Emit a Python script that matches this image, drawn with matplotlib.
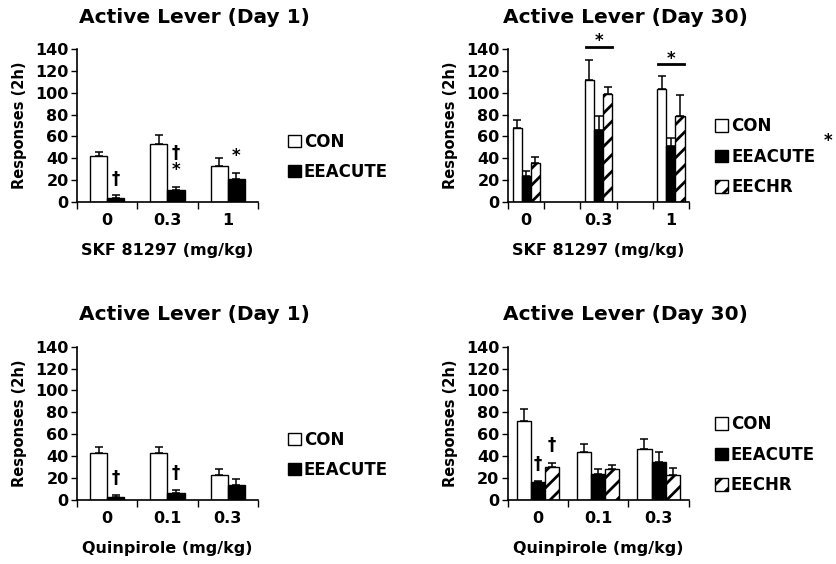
import numpy as np
import matplotlib.pyplot as plt

plt.rcParams["font.family"] = "DejaVu Sans"
plt.rcParams["font.weight"] = "bold"
plt.rcParams["axes.labelweight"] = "bold"
plt.rcParams["hatch.linewidth"] = 2.0

# SKF 81297 - Day 1
skf_d1_doses = ["0", "0.3", "1"]
skf_d1_con = [42, 53, 33]
skf_d1_con_err = [4, 8, 7]
skf_d1_acute = [4, 11, 21]
skf_d1_acute_err = [2, 3, 6]
skf_d1_marks = [["", "†"], ["", "†\n*"], ["", "*"]]

# SKF 81297 - Day 30 (blank slots kept like the original axis)
skf_d30_doses = ["0", "", "0.3", "", "1"]
skf_d30_con = [68, np.nan, 112, np.nan, 103]
skf_d30_con_err = [7, 0, 18, 0, 12]
skf_d30_acute = [24, np.nan, 66, np.nan, 51]
skf_d30_acute_err = [4, 0, 13, 0, 8]
skf_d30_chr = [36, np.nan, 99, np.nan, 79]
skf_d30_chr_err = [5, 0, 6, 0, 19]
skf_d30_sig = [np.nan, np.nan, 142, np.nan, 126]

# Quinpirole - Day 1
qnp_d1_doses = ["0", "0.1", "0.3"]
qnp_d1_con = [43, 43, 23]
qnp_d1_con_err = [5, 5, 5]
qnp_d1_acute = [3, 6, 14]
qnp_d1_acute_err = [2, 3, 5]
qnp_d1_marks = [["", "†"], ["", "†"], ["", ""]]

# Quinpirole - Day 30
qnp_d30_doses = ["0", "0.1", "0.3"]
qnp_d30_con = [72, 44, 47]
qnp_d30_con_err = [11, 7, 9]
qnp_d30_acute = [16, 24, 35]
qnp_d30_acute_err = [1, 4, 9]
qnp_d30_chr = [30, 28, 23]
qnp_d30_chr_err = [4, 4, 6]
qnp_d30_marks = [["", "†", "†"], ["", "", ""], ["", "", ""]]

groups = ["CON", "EEACUTE", "EECHR"]
styles = {
    "CON": dict(color="white", edgecolor="black"),
    "EEACUTE": dict(color="black", edgecolor="black"),
    "EECHR": dict(color="white", edgecolor="black", hatch="//"),
}


def panel(ax, doses, vals, errs, width, title, xlabel, marks=None, mark_off=5.5, leg_x=1.12):
    n = len(doses)
    x = np.arange(n)
    k = len(vals)
    bars = []
    for i, (v, e) in enumerate(zip(vals, errs)):
        pos = x + (i - (k - 1) / 2) * width
        v = np.array(v, dtype=float)
        e = np.array(e, dtype=float)
        b = ax.bar(pos, v, width, linewidth=1.0, label=groups[i], **styles[groups[i]])
        bars.append(b)
        ok = ~np.isnan(v)
        ax.errorbar(pos[ok], v[ok], yerr=[np.zeros(ok.sum()), e[ok]], fmt="none",
                    ecolor="black", elinewidth=1.1, capsize=3, capthick=1.1)
        if marks is not None:
            for j in range(n):
                s = marks[j][i]
                if s:
                    ax.annotate(s, (pos[j], v[j] + e[j]), xytext=(0, mark_off),
                                textcoords="offset points", ha="center", va="bottom",
                                fontsize=12, linespacing=0.9)
    ax.set_xlim(-0.5, n - 0.5)
    ax.set_ylim(0, 140)
    ax.set_yticks(range(0, 141, 20))
    ax.set_xticks(x)
    ax.set_xticklabels(doses)
    ax.set_xticks(np.arange(n + 1) - 0.5, minor=True)
    ax.tick_params(axis="x", which="major", length=0, pad=8, labelsize=11.5)
    ax.tick_params(axis="x", which="minor", length=5, width=1, direction="out")
    ax.tick_params(axis="y", length=4, width=1, direction="out", labelsize=11.5, pad=2)
    for s in ["top", "right"]:
        ax.spines[s].set_visible(False)
    for s in ["left", "bottom"]:
        ax.spines[s].set_linewidth(1.2)
    ax.set_ylabel("Responses (2h)", fontsize=10.5, labelpad=6)
    ax.set_xlabel(xlabel, fontsize=11.5, labelpad=11)
    ax.set_title(title, fontsize=14.5, fontweight="bold", pad=19, x=0.65)
    ax.legend(handles=bars, loc="center left", bbox_to_anchor=(leg_x, 0.295),
              frameon=False, borderpad=0, handlelength=0.75, handleheight=0.75,
              handletextpad=0.2, labelspacing=0.75, fontsize=12)
    return x


fig = plt.figure(figsize=(8.36, 5.64), dpi=100)

ax1 = fig.add_axes([0.0921, 0.6418, 0.2165, 0.2713])
panel(ax1, skf_d1_doses, [skf_d1_con, skf_d1_acute], [skf_d1_con_err, skf_d1_acute_err],
      0.286, "Active Lever (Day 1)", "SKF 81297 (mg/kg)", skf_d1_marks)

ax2 = fig.add_axes([0.6077, 0.6418, 0.2165, 0.2713])
x2 = panel(ax2, skf_d30_doses, [skf_d30_con, skf_d30_acute, skf_d30_chr],
           [skf_d30_con_err, skf_d30_acute_err, skf_d30_chr_err],
           0.25, "Active Lever (Day 30)", "SKF 81297 (mg/kg)", leg_x=1.1)
for xi, yi in zip(x2, skf_d30_sig):
    if not np.isnan(yi):
        ax2.plot([xi - 0.36, xi + 0.36], [yi, yi], color="black", lw=2, clip_on=False)
        ax2.text(xi, yi + 0.5, "*", ha="center", va="baseline", fontsize=12, clip_on=False)
fig.text(0.991, 0.75, "*", ha="center", va="center", fontsize=12)

ax3 = fig.add_axes([0.0921, 0.1135, 0.2165, 0.2718])
panel(ax3, qnp_d1_doses, [qnp_d1_con, qnp_d1_acute], [qnp_d1_con_err, qnp_d1_acute_err],
      0.286, "Active Lever (Day 1)", "Quinpirole (mg/kg)", qnp_d1_marks)

ax4 = fig.add_axes([0.6073, 0.1135, 0.2165, 0.2718])
panel(ax4, qnp_d30_doses, [qnp_d30_con, qnp_d30_acute, qnp_d30_chr],
      [qnp_d30_con_err, qnp_d30_acute_err, qnp_d30_chr_err],
      0.233, "Active Lever (Day 30)", "Quinpirole (mg/kg)", qnp_d30_marks,
      mark_off=6, leg_x=1.1)

fig.savefig("out.png", dpi=100)
